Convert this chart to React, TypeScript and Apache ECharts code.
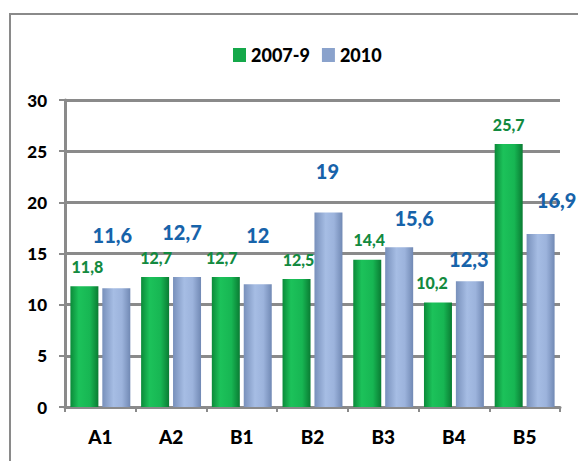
import React, { useEffect, useRef } from "react";
import * as echarts from "echarts";

const categories = ["A1", "A2", "B1", "B2", "B3", "B4", "B5"];
const values2007 = [11.8, 12.7, 12.7, 12.5, 14.4, 10.2, 25.7];
const values2010 = [11.6, 12.7, 12.0, 19.0, 15.6, 12.3, 16.9];
const yTicks = [0, 5, 10, 15, 20, 25, 30];

// manual label nudges (as in the original spreadsheet chart)
const label2007Offset = [[3, 0], [1, 0], [-4, 0], [2, 0], [2, 0], [-6, 0], [0, 0]];
const label2010Offset = [[-4, -39], [-5, -31], [0, -35], [-1, -28], [15, -15], [-1, -8], [16, -20]];

const FONT = "Lato, 'Open Sans', sans-serif";
const fmt = (v: number) => String(v).replace(".", ",");

export default function App() {
  const ref = useRef<HTMLDivElement>(null);
  useEffect(() => {
    if (!ref.current) return;
    const chart = echarts.init(ref.current, null, { renderer: "svg" });
    const greenGrad = new echarts.graphic.LinearGradient(0, 0, 1, 0, [
      { offset: 0, color: "#0b8a39" },
      { offset: 0.3, color: "#1cc25a" },
      { offset: 0.7, color: "#17b653" },
      { offset: 1, color: "#0a7c33" },
    ]);
    const blueGrad = new echarts.graphic.LinearGradient(0, 0, 1, 0, [
      { offset: 0, color: "#7890bb" },
      { offset: 0.4, color: "#a6bde4" },
      { offset: 0.7, color: "#9cb3dc" },
      { offset: 1, color: "#7189b4" },
    ]);
    chart.setOption({
      animation: false,
      backgroundColor: "#ffffff",
      graphic: [
        {
          type: "polyline",
          shape: { points: [[10, 461], [10, 14], [578, 14]] },
          style: { stroke: "#8a8a8a", lineWidth: 2, fill: "none" },
          silent: true,
        },
      ],
      legend: {
        left: 228,
        top: 41,
        itemWidth: 13,
        itemHeight: 14,
        itemGap: 12,
        textStyle: { fontFamily: FONT, fontWeight: 900, fontSize: 18, color: "#000" },
        data: [
          { name: "2007-9", icon: "rect", itemStyle: { color: "#15a84a" } },
          { name: "2010", icon: "rect", itemStyle: { color: "#8aa2cc" } },
        ],
      },
      grid: { left: 65, right: 18, top: 100, bottom: 54, containLabel: false },
      xAxis: {
        type: "category",
        data: categories,
        axisLine: { lineStyle: { color: "#8a8a8a", width: 3 } },
        axisTick: { show: true, length: 5, lineStyle: { color: "#8a8a8a", width: 2 } },
        axisLabel: {
          fontFamily: FONT,
          fontWeight: 900,
          fontSize: 19,
          color: "#000",
          margin: 20,
        },
      },
      yAxis: {
        type: "value",
        min: yTicks[0],
        max: yTicks[yTicks.length - 1],
        interval: 5,
        axisLine: { show: true, lineStyle: { color: "#8a8a8a", width: 3 } },
        axisTick: { show: true, length: 6, lineStyle: { color: "#8a8a8a", width: 2 } },
        splitLine: { lineStyle: { color: "#8a8a8a", width: 3 } },
        axisLabel: {
          fontFamily: FONT,
          fontWeight: 900,
          fontSize: 17,
          color: "#000",
          margin: 18,
        },
      },
      series: [
        {
          name: "2007-9",
          type: "bar",
          barWidth: 28,
          barGap: "14%",
          itemStyle: { color: greenGrad },
          data: values2007.map((v, i) => ({
            value: v,
            label: { offset: label2007Offset[i] },
          })),
          label: {
            show: true,
            position: "top",
            distance: 12,
            fontFamily: FONT,
            fontWeight: 900,
            fontSize: 16,
            color: "#138a3f",
            formatter: (p: any) => fmt(p.value),
          },
        },
        {
          name: "2010",
          type: "bar",
          barWidth: 28,
          itemStyle: { color: blueGrad },
          data: values2010.map((v, i) => ({
            value: v,
            label: { offset: label2010Offset[i] },
          })),
          label: {
            show: true,
            position: "top",
            distance: 4,
            fontFamily: FONT,
            fontWeight: 900,
            fontSize: 20,
            color: "#1763aa",
            formatter: (p: any) => fmt(p.value),
          },
        },
      ],
    });
    return () => chart.dispose();
  }, []);
  return (
    <div
      ref={ref}
      style={{ position: "fixed", left: 0, top: 0, width: 578, height: 461 }}
    />
  );
}
